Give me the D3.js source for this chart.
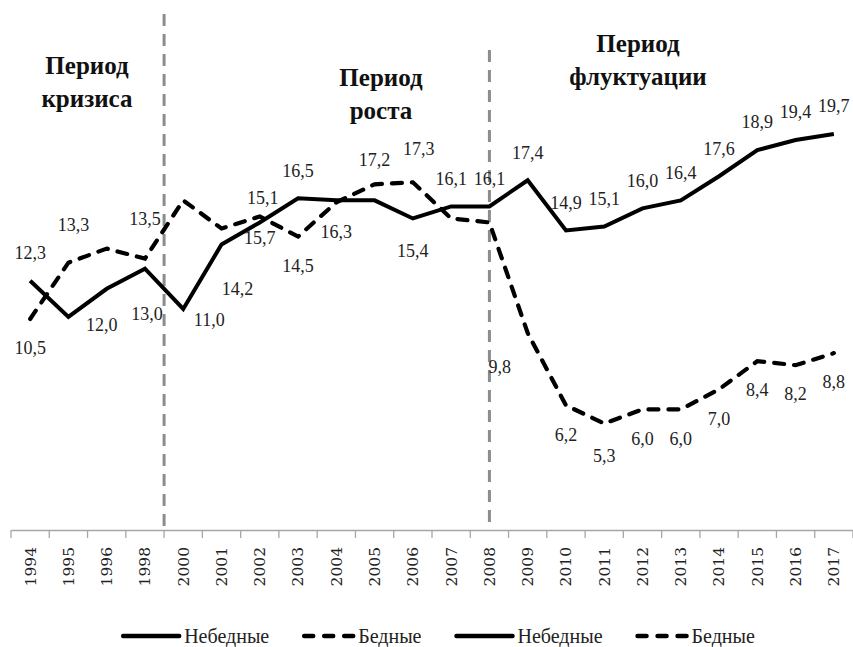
<!DOCTYPE html>
<html lang="ru">
<head>
  <meta charset="UTF-8">
  <title>Небедные и бедные</title>
  <style>
    body { margin: 0; background: #fff; }
    svg { display: block; }
    .serif { font-family: "Liberation Serif", "DejaVu Serif", "Times New Roman", serif; }
    .dserif { font-family: "DejaVu Serif", "Liberation Serif", serif; }
  </style>
</head>
<body>

  <section class="plot"></section>

  <script src="https://cdn.jsdelivr.net/npm/d3@7/dist/d3.min.js"></script>
  <script>
    // Data
    const years = ["1994", "1995", "1996", "1998", "2000", "2001", "2002", "2003", "2004", "2005", "2006",
                   "2007", "2008", "2009", "2010", "2011", "2012", "2013", "2014", "2015", "2016", "2017"];
    const nonPoor = [12.4, 10.6, 12.0, 13.0, 11.0, 14.2, 15.3, 16.5, 16.4, 16.4, 15.5,
                     16.1, 16.1, 17.4, 14.9, 15.1, 16.0, 16.4, 17.6, 18.9, 19.4, 19.7];
    const poor = [10.5, 13.3, 14.0, 13.5, 16.4, 15.0, 15.6, 14.6, 16.3, 17.2, 17.3,
                  15.5, 15.3, 9.8, 6.2, 5.3, 6.0, 6.0, 7.0, 8.4, 8.2, 8.8];
    const nonPoorLabels = ["12,3", null, "12,0", "13,0", "11,0", "14,2", "15,7", "16,5", null, null, "15,4",
                           "16,1", "16,1", "17,4", "14,9", "15,1", "16,0", "16,4", "17,6", "18,9", "19,4", "19,7"];
    const poorLabels = ["10,5", "13,3", null, "13,5", null, null, "15,1", "14,5", "16,3", "17,2", "17,3",
                        null, null, "9,8", "6,2", "5,3", "6,0", "6,0", "7,0", "8,4", "8,2", "8,8"];
    const periodNames = [["Период", "кризиса"], ["Период", "роста"], ["Период", "флуктуации"]];
    const legendNames = ["Небедные", "Бедные", "Небедные", "Бедные"];

    // label nudges (dx, dy from the point), everything else uses the default
    const nonPoorNudge = { 2: [-5, 36], 3: [2, 45], 4: [26, 11], 5: [16, 44], 6: [0, 15], 10: [0, 32] };
    const poorNudge = { 1: [5, -38], 3: [0, -40], 6: [3, -19], 9: [0, -25], 10: [6, -34], 13: [-28, 34], 15: [0, 32] };

    const W = 853, H = 647;
    const svg = d3.select(".plot").append("svg")
      .attr("width", W)
      .attr("height", H);

    const x = d3.scaleBand().domain(years).range([11, 853]).padding(0);
    const y = d3.scaleLinear().domain([0, 25]).range([530, 27.5]);
    const cx = d => x(d) + x.bandwidth() / 2;

    // period separators
    const sepColor = "#8c8c8c";
    svg.append("line")
      .attr("x1", x("2000")).attr("x2", x("2000"))
      .attr("y1", 14).attr("y2", 531)
      .attr("stroke", sepColor).attr("stroke-width", 3)
      .attr("stroke-dasharray", "12,8");
    svg.append("line")
      .attr("x1", cx("2008")).attr("x2", cx("2008"))
      .attr("y1", 50).attr("y2", 531)
      .attr("stroke", sepColor).attr("stroke-width", 3)
      .attr("stroke-dasharray", "12,8");

    // x axis
    const xAxis = d3.axisBottom(x).tickSize(0).tickFormat(d => d);
    const gx = svg.append("g").attr("transform", "translate(0,530)").call(xAxis);
    gx.attr("font-family", null).attr("font-size", null);
    gx.select(".domain").attr("stroke", "#a6a6a6").attr("stroke-width", 1.3);
    gx.selectAll(".tick text")
      .attr("class", "dserif")
      .attr("transform", "rotate(-90)")
      .attr("x", -17).attr("y", 0).attr("dy", "0.35em")
      .attr("text-anchor", "end")
      .style("font-size", "15.5px")
      .attr("fill", "#222");
    svg.append("g")
      .selectAll("line")
      .data(years.concat(["end"]))
      .enter()
      .append("line")
        .attr("x1", d => d === "end" ? 853 : x(d))
        .attr("x2", d => d === "end" ? 853 : x(d))
        .attr("y1", 530).attr("y2", 538)
        .attr("stroke", "#a6a6a6").attr("stroke-width", 1.3);

    // lines
    const line = d3.line()
      .x((d, i) => cx(years[i]))
      .y(d => y(d));

    svg.append("path")
      .datum(poor)
      .attr("d", line)
      .attr("fill", "none")
      .attr("stroke", "#000")
      .attr("stroke-width", 4.2)
      .attr("stroke-linecap", "round")
      .attr("stroke-dasharray", "10,10");

    svg.append("path")
      .datum(nonPoor)
      .attr("d", line)
      .attr("fill", "none")
      .attr("stroke", "#000")
      .attr("stroke-width", 4)
      .attr("stroke-linejoin", "miter");

    // data labels
    function drawLabels(values, labels, nudge, defaultDy) {
      svg.append("g")
        .selectAll("text")
        .data(labels.map((t, i) => ({ t, i })).filter(d => d.t))
        .enter()
        .append("text")
          .attr("class", "serif")
          .attr("x", d => cx(years[d.i]) + (nudge[d.i] ? nudge[d.i][0] : 0))
          .attr("y", d => y(values[d.i]) + (nudge[d.i] ? nudge[d.i][1] : defaultDy))
          .attr("dy", "0.35em")
          .attr("text-anchor", "middle")
          .style("font-size", "18px")
          .attr("fill", "#222")
          .text(d => d.t);
    }
    drawLabels(nonPoor, nonPoorLabels, nonPoorNudge, -28);
    drawLabels(poor, poorLabels, poorNudge, 29);

    // period titles
    const periodAt = [[87, 65], [381, 77], [638, 43]];
    periodNames.forEach((lines, k) => {
      const t = svg.append("text")
        .attr("class", "serif")
        .style("font-weight", "bold")
        .style("font-size", "25px")
        .attr("text-anchor", "middle")
        .attr("fill", "#111");
      lines.forEach((s, j) => {
        t.append("tspan")
          .attr("x", periodAt[k][0])
          .attr("y", periodAt[k][1] + j * 33)
          .attr("dy", "0.35em")
          .text(s);
      });
    });

    // legend
    const legend = svg.append("g");
    let lx = 0;
    legendNames.forEach((name, i) => {
      const dashed = i % 2 === 1;
      const item = legend.append("g").attr("transform", `translate(${lx},0)`);
      const len = dashed ? 49 : 56;
      item.append("line")
        .attr("x1", 2).attr("x2", 2 + len)
        .attr("y1", 0).attr("y2", 0)
        .attr("stroke", "#000")
        .attr("stroke-width", 4.5)
        .attr("stroke-linecap", "round")
        .attr("stroke-dasharray", dashed ? "9,11" : null);
      const txt = item.append("text")
        .attr("class", "serif")
        .attr("x", len + 7)
        .attr("dy", "0.35em")
        .style("font-size", "20px")
        .attr("fill", "#222")
        .text(name);
      lx += len + 7 + txt.node().getComputedTextLength() + 33;
    });
    const lw = lx - 33;
    legend.attr("transform", `translate(${438 - lw / 2},636)`);
  </script>
</body>
</html>
